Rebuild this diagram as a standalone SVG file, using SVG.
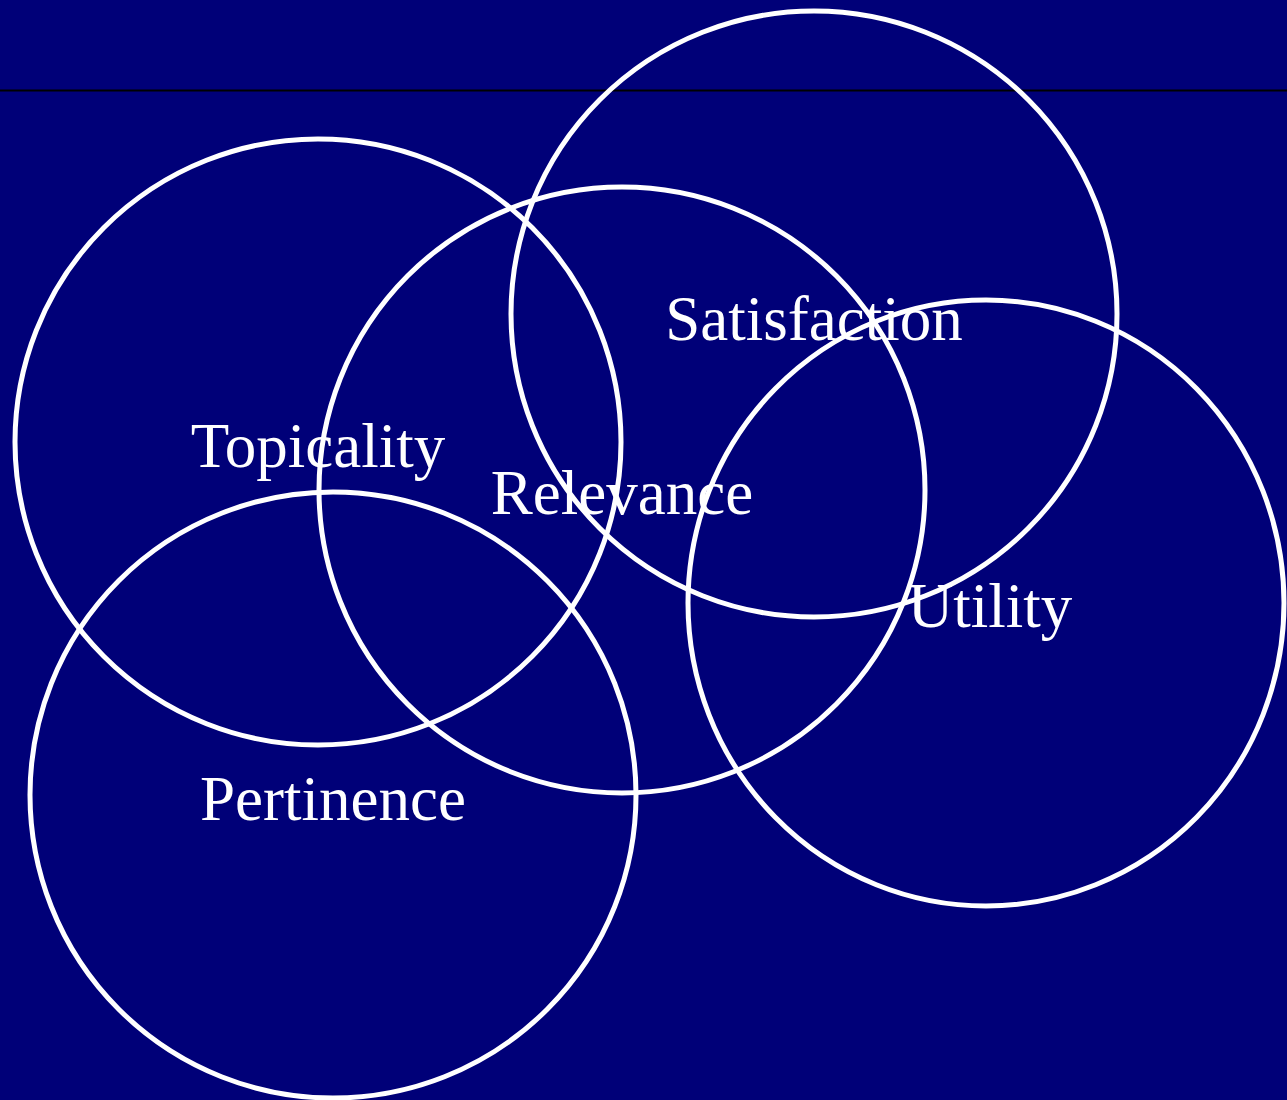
<svg xmlns="http://www.w3.org/2000/svg" width="1287" height="1100" viewBox="0 0 1287 1100">
  <style>
    .ring { fill: none; stroke: #ffffff; stroke-width: 5; }
    .label { fill: #ffffff; font-family: "Liberation Serif", "Times New Roman", serif; font-size: 63px; text-anchor: middle; }
  </style>
  <rect x="0" y="0" width="1287" height="1100" fill="#000078"/>
  <line x1="0" y1="90.5" x2="1287" y2="90.5" stroke="#000000" stroke-width="2"/>
  <g id="topicality">
    <circle class="ring" cx="318" cy="442" r="303"/>
    <text class="label" x="318" y="467">Topicality</text>
  </g>
  <g id="relevance">
    <circle class="ring" cx="622" cy="490" r="303"/>
    <text class="label" x="622" y="514">Relevance</text>
  </g>
  <g id="satisfaction">
    <circle class="ring" cx="814" cy="314" r="303"/>
    <text class="label" x="814" y="340">Satisfaction</text>
  </g>
  <g id="utility">
    <ellipse class="ring" cx="986" cy="603" rx="298" ry="303"/>
    <text class="label" x="990" y="627">Utility</text>
  </g>
  <g id="pertinence">
    <circle class="ring" cx="333" cy="795" r="303"/>
    <text class="label" x="333" y="820">Pertinence</text>
  </g>
  <g id="connectors"/>
</svg>
